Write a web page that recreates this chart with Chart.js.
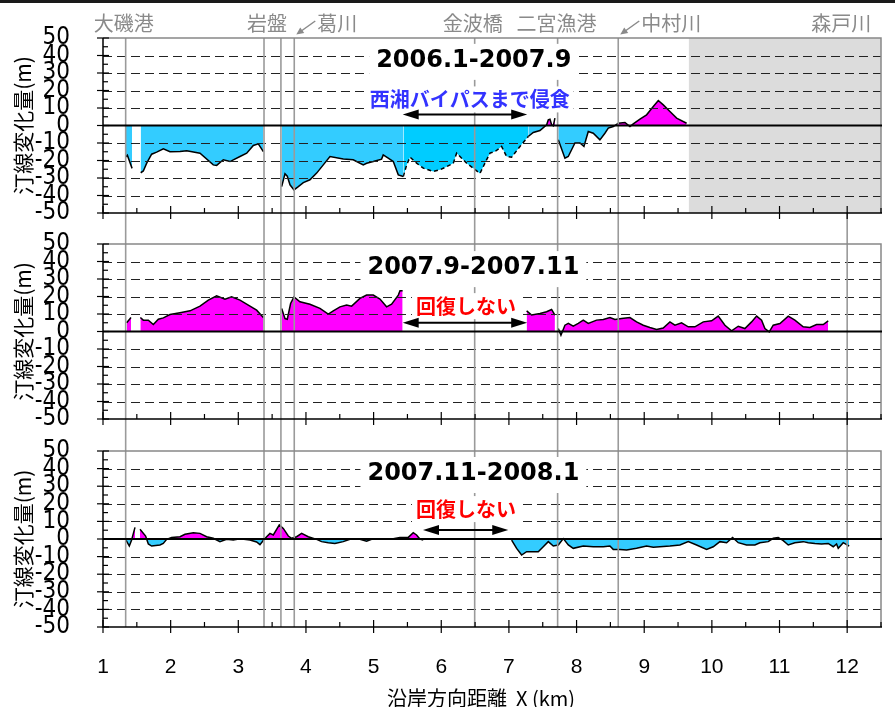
<!DOCTYPE html>
<html>
<head>
<meta charset="utf-8">
<script src="https://cdn.jsdelivr.net/npm/chart.js@4.4.0/dist/chart.umd.min.js"></script>
<style>
  body { margin: 0; background: #fff; width: 895px; height: 707px; overflow: hidden; position: relative; }
  canvas { position: absolute; left: 0; }
  #topbar { position: absolute; left: 0; top: 0; width: 895px; height: 3px; background: #1a1a1a; }
</style>
</head>
<body>
<div id="topbar"></div>
<canvas id="c1" width="895" height="223" style="top:0"></canvas>
<canvas id="c2" width="895" height="210" style="top:223px"></canvas>
<canvas id="c3" width="895" height="274" style="top:433px"></canvas>
<script>
// landmarks along the coast (km) and their names
const landmarkKm = [1.335, 3.38, 3.63, 3.827, 6.494, 7.72, 8.616, 12.0];
const landmarkNames = ['大磯港', '岩盤', '', '葛川', '金波橋', '二宮漁港', '中村川', '森戸川'];

// 2006.1-2007.9 (solid part, null = no data)
const p1X = [1.335, 1.36, 1.43, 1.49, 1.557, 1.596, 1.646, 1.719, 1.793, 1.892, 1.990, 2.138, 2.237, 2.434, 2.630, 2.680, 2.778, 2.877, 3.025, 3.124, 3.222, 3.296, 3.370, 3.50,
  3.641, 3.690, 3.724, 3.764, 3.823, 3.887, 3.961, 4.059, 4.158, 4.256, 4.355, 4.552, 4.699, 4.847, 4.897, 4.995, 5.118, 5.142, 5.216, 5.291, 5.365, 5.439, 6.40,
  7.286, 7.360, 7.459, 7.558, 7.582, 7.607, 7.631, 7.656, 7.680, 7.70,
  7.730, 7.828, 7.877, 7.976, 8.050, 8.109, 8.173, 8.247, 8.345, 8.419, 8.469, 8.543, 8.617, 8.715, 8.789, 8.838, 8.937, 9.035, 9.134, 9.208, 9.282, 9.380, 9.479, 9.627];
const p1Y = [-18, -17, -24.5, null, -27, -26, -21.5, -16.4, -15.2, -13.3, -15, -14.9, -14.5, -15.8, -22.5, -22.8, -19.6, -20.6, -17.7, -15.8, -11.4, -10.5, -14.9, null,
  -34.9, -27.6, -29, -33.9, -36.8, -34.9, -32.6, -31, -27.2, -22.5, -17.7, -19.2, -19.6, -22.5, -21.6, -20.6, -19.2, -16.8, -18.7, -20.6, -28.2, -29.1, null,
  -6.3, -4, -2.9, 0.4, 3.2, 3.6, 0.4, -0.2, 4.2, null,
  -8.2, -18.7, -17.7, -10, -10, -12, -3.4, -4.4, -8.2, -4.4, -1.5, -0.6, 1.3, 1.7, -0.6, 0.9, 3.6, 6.1, 10.9, 14.3, 11.8, 8, 4.2, 1.3];
// 2006.1-2007.9 (dashed part)
const p1DashX = [5.439, 5.489, 5.538, 5.636, 5.735, 5.882, 5.981, 6.080, 6.178, 6.227, 6.375, 6.473, 6.572, 6.646, 6.720, 6.794, 6.892, 6.966, 7.040, 7.163, 7.286];
const p1DashY = [-29.1, -22.5, -18.1, -21.5, -24.4, -26.3, -25.3, -23.5, -21.5, -15.8, -21.5, -24.4, -27.4, -21.5, -15.8, -14.9, -12, -17.7, -18.1, -12, -6.3];

// 2007.9-2007.11
const p2X = [1.350, 1.414, 1.48, 1.552, 1.596, 1.670, 1.744, 1.818, 1.892, 1.990, 2.138, 2.286, 2.434, 2.557, 2.680, 2.803, 2.901, 3.025, 3.148, 3.271, 3.370, 3.50,
  3.641, 3.690, 3.724, 3.773, 3.823, 3.911, 4.059, 4.207, 4.330, 4.404, 4.503, 4.601, 4.675, 4.798, 4.897, 4.995, 5.094, 5.192, 5.266, 5.365, 5.390, 5.429, 6.40,
  7.262, 7.336, 7.459, 7.557, 7.631, 7.680, 7.70,
  7.730, 7.769, 7.828, 7.878, 7.951, 8.025, 8.099, 8.173, 8.296, 8.395, 8.493, 8.567, 8.666, 8.789, 8.887, 8.986, 9.084, 9.183, 9.281, 9.380,
  9.454, 9.552, 9.651, 9.749, 9.873, 9.996, 10.094, 10.193, 10.291, 10.390, 10.488, 10.587, 10.661, 10.735, 10.784, 10.848, 10.907, 11.006, 11.129, 11.227,
  11.350, 11.449, 11.547, 11.646, 11.720];
const p2Y = [5, 8, null, 8, 6.5, 6.5, 4, 7, 7.8, 9.7, 10.7, 11.8, 14.5, 17.9, 20.4, 18.5, 19.8, 17.9, 15.1, 12.2, 8, null,
  13.2, 7.4, 7, 16, 19.8, 17, 15.6, 13.2, 9.9, 11.8, 14.1, 15.1, 14.5, 18.9, 20.8, 20.8, 18.5, 14.1, 15.6, 20.8, 23.3, 23.3, null,
  11.8, 9.4, 10.3, 11.3, 12.6, 9.4, null,
  1.7, -2.1, 3.6, 4.6, 3, 4.6, 6.5, 4.6, 6.5, 6.9, 8, 6.9, 7.4, 8, 5.5, 3.6, 2.3, 1.1, 2, 5.5,
  3.6, 5, 2.7, 2.7, 5.5, 6.1, 8.8, 3.6, 0.4, 3, 1.7, 5.5, 8.8, 6.5, 1.7, -0.2, 3.6, 4.6, 8.8, 6.5,
  2.7, 2.3, 4, 4, 6.1];

// 2007.11-2008.1
const p3X = [1.340, 1.389, 1.423, 1.473, 1.51,
  1.547, 1.630, 1.670, 1.719, 1.842, 1.891, 1.941, 2.014, 2.138, 2.212, 2.335, 2.433, 2.532, 2.630, 2.729, 2.827, 2.926, 3.024, 3.172, 3.271,
  3.320, 3.369, 3.419, 3.468, 3.517, 3.606, 3.665, 3.739, 3.788, 3.862, 3.936, 4.034, 4.158, 4.231, 4.330, 4.428, 4.551, 4.650, 4.798, 4.896,
  4.970, 5.093, 5.290, 5.389, 5.512, 5.586, 5.635, 5.684, 5.734, 6.40,
  7.040, 7.114, 7.188, 7.262, 7.360, 7.434, 7.508, 7.582, 7.656, 7.730, 7.804, 7.878, 7.951, 8.099, 8.247, 8.395, 8.493, 8.542, 8.641, 8.740,
  8.887, 9.035, 9.134, 9.232, 9.380, 9.528, 9.651, 9.774, 9.922, 10.020, 10.119, 10.218, 10.306, 10.390, 10.513, 10.636, 10.710, 10.833, 10.907, 10.981,
  11.055, 11.129, 11.227, 11.350, 11.424, 11.523, 11.621, 11.720, 11.794, 11.843, 11.868, 11.942, 12.030];
const p3Y = [-0.6, -4, -0.6, 6.6, null,
  5.5, 1.7, -2.8, -4, -3.4, -2.5, -0.2, 0.9, 1.3, 2.7, 3.6, 3.2, 1.3, 0.4, -1.5, -0.2, -0.6, 0.2, -0.6, -1.7,
  -3.2, -0.9, 1.3, 3.2, 2.3, 8, 6, 1.7, 0.4, 1.3, 3.2, 1.3, -0.2, -1.5, -2.1, -2.5, -1.5, -0.2, -0.2, -1.3,
  -0.2, -0.2, 0.2, 0.8, 0.9, 3.6, 2.3, 0, -0.6, null,
  -0.6, -5.3, -9.1, -7.2, -7.2, -7.2, -4.4, -1.5, -4, -3.4, 0.2, -3.4, -5.3, -4, -4.4, -4.4, -4, -5.9, -5.9, -6.3,
  -5.3, -4, -4.7, -4.4, -4, -3.4, -1.5, -3.4, -5.9, -4.4, -1.5, -2.1, 0.9, -2.1, -3.4, -3.4, -2.1, -1.5, 0.4, 0.9,
  -0.9, -3.4, -2.1, -1.5, -2.1, -2.5, -2.8, -2.5, -4.4, -2.8, -5.3, -2.1, -4];

const CJK = '"Noto Sans CJK JP", sans-serif';
const MAGENTA = '#ff00ff', CYAN = '#33ccff';

function lineDs(xs, ys, extra) {
  return Object.assign({
    data: xs.map((x, i) => ({ x: x, y: ys[i] })),
    borderColor: '#000',
    borderWidth: 1.5,
    pointRadius: 0,
    tension: 0,
    spanGaps: false,
    fill: { target: 'origin', above: MAGENTA, below: CYAN }
  }, extra || {});
}

function arrowHead(ctx, x, y, dir, len, half) {
  ctx.beginPath();
  ctx.moveTo(x, y);
  ctx.lineTo(x - dir * len, y - half);
  ctx.lineTo(x - dir * len, y + half);
  ctx.closePath();
  ctx.fill();
}

const deco = {
  id: 'deco',
  beforeDatasetsDraw(chart, args, o) {
    const { ctx, chartArea: a, scales: { x } } = chart;
    if (o.band) {
      const bx = x.getPixelForValue(o.band);
      ctx.save();
      ctx.fillStyle = '#dcdcdc';
      ctx.fillRect(bx, a.top, a.right - bx, a.bottom - a.top);
      ctx.restore();
    }
  },
  afterDatasetsDraw(chart, args, o) {
    const { ctx, chartArea: a, scales: { x, y } } = chart;
    ctx.save();

    // dashed grid lines
    ctx.strokeStyle = '#222';
    ctx.lineWidth = 1;
    ctx.setLineDash([9, 5]);
    y.ticks.forEach(t => {
      if (t.value % 10 === 0 && Math.abs(t.value) < 50 && t.value !== 0) {
        const py = Math.round(y.getPixelForValue(t.value)) + 0.5;
        ctx.beginPath(); ctx.moveTo(a.left, py); ctx.lineTo(a.right, py); ctx.stroke();
      }
    });
    ctx.setLineDash([]);

    // landmark lines
    ctx.strokeStyle = '#9a9a9a';
    ctx.lineWidth = 1.6;
    landmarkKm.forEach(km => {
      const px = x.getPixelForValue(km);
      let y0 = o.linesFromArea ? a.top : 0;
      const y1 = o.linesToArea ? a.bottom : chart.height;
      if (o.band && km >= o.band) y0 = a.bottom;
      ctx.beginPath(); ctx.moveTo(px, y0); ctx.lineTo(px, y1); ctx.stroke();
    });

    // frame: grey top/right, black axes
    ctx.strokeStyle = '#888';
    ctx.lineWidth = 1.5;
    ctx.beginPath();
    ctx.moveTo(a.left, a.top); ctx.lineTo(a.right, a.top); ctx.lineTo(a.right, a.bottom);
    ctx.stroke();

    ctx.strokeStyle = '#000';
    const zy = y.getPixelForValue(0);
    ctx.lineWidth = 2;
    ctx.beginPath(); ctx.moveTo(a.left, zy); ctx.lineTo(a.right + 1, zy); ctx.stroke();
    ctx.lineWidth = 1.5;
    ctx.beginPath();
    ctx.moveTo(a.left, a.top); ctx.lineTo(a.left, a.bottom); ctx.lineTo(a.right + 1, a.bottom);
    ctx.stroke();

    // ticks
    ctx.lineWidth = 1.2;
    y.ticks.forEach(t => {
      const py = y.getPixelForValue(t.value);
      const major = t.value % 10 === 0;
      ctx.beginPath();
      ctx.moveTo(major ? a.left - 6 : a.left, py);
      ctx.lineTo(a.left + (major ? 6 : 5), py);
      ctx.stroke();
    });
    x.ticks.forEach(t => {
      const px = x.getPixelForValue(t.value);
      const major = Number.isInteger(t.value);
      ctx.beginPath();
      ctx.moveTo(px, major ? a.bottom + 6 : a.bottom);
      ctx.lineTo(px, a.bottom - (major ? 7 : 5));
      ctx.stroke();
    });

    // period title with white box
    if (o.title) {
      const tx = x.getPixelForValue(o.title.x), ty = y.getPixelForValue(o.title.y);
      ctx.font = 'bold 24px "DejaVu Sans", sans-serif';
      const w = ctx.measureText(o.title.text).width;
      ctx.fillStyle = '#fff';
      ctx.fillRect(tx - w / 2 - 7, ty - 16, w + 14, 36);
      ctx.fillStyle = '#000';
      ctx.textAlign = 'center';
      ctx.textBaseline = 'middle';
      ctx.fillText(o.title.text, tx, ty + 1);
    }
    if (o.note) {
      const nx = x.getPixelForValue(o.note.x), ny = y.getPixelForValue(o.note.y);
      ctx.font = 'bold 20px ' + CJK;
      const w = ctx.measureText(o.note.text).width;
      ctx.fillStyle = '#fff';
      ctx.fillRect(nx - w / 2 - 4, ny - 13, w + 8, 26);
      ctx.fillStyle = o.note.color;
      ctx.textAlign = 'center';
      ctx.textBaseline = 'middle';
      ctx.fillText(o.note.text, nx, ny);
    }
    if (o.arrow) {
      const x1 = x.getPixelForValue(o.arrow.from), x2 = x.getPixelForValue(o.arrow.to);
      const ay = y.getPixelForValue(o.arrow.y);
      ctx.strokeStyle = '#000';
      ctx.fillStyle = '#000';
      ctx.lineWidth = 2.2;
      ctx.beginPath(); ctx.moveTo(x1 + 10, ay); ctx.lineTo(x2 - 10, ay); ctx.stroke();
      arrowHead(ctx, x1, ay, -1, 16, 5);
      arrowHead(ctx, x2, ay, 1, 16, 5);
    }
    ctx.restore();
  },
  afterDraw(chart, args, o) {
    const { ctx, scales: { x } } = chart;
    ctx.save();
    if (o.landmarkLabels) {
      // label offsets from each landmark line, px; pointer = small arrow to the line
      const labelDx = [-2, 3, 0, 43, -2, -1, 53, -6];
      const pointer = [false, false, false, true, false, false, true, false];
      ctx.font = '20px ' + CJK;
      ctx.fillStyle = '#8a8a8a';
      ctx.strokeStyle = '#8a8a8a';
      ctx.textAlign = 'center';
      ctx.textBaseline = 'middle';
      landmarkNames.forEach((name, i) => {
        if (!name) return;
        const px = x.getPixelForValue(landmarkKm[i]);
        ctx.fillText(name, px + labelDx[i], 23);
        if (pointer[i]) {
          ctx.lineWidth = 1.5;
          ctx.beginPath(); ctx.moveTo(px + 21, 21); ctx.lineTo(px + 7, 31); ctx.stroke();
          ctx.beginPath();
          ctx.moveTo(px + 2, 34.5); ctx.lineTo(px + 6, 27.5); ctx.lineTo(px + 10, 33);
          ctx.closePath(); ctx.fill();
        }
      });
    }
    if (o.xTitle) {
      ctx.font = '20px ' + CJK;
      ctx.fillStyle = '#000';
      ctx.textAlign = 'center';
      ctx.textBaseline = 'middle';
      ctx.fillText(o.xTitle, 481, chart.height - 9);
    }
    ctx.restore();
  }
};

function makePanel(id, datasets, decoOpts, padTop, xAxisH, showX) {
  return new Chart(document.getElementById(id), {
    type: 'line',
    data: { datasets: datasets },
    plugins: [deco],
    options: {
      responsive: false,
      animation: false,
      layout: { padding: { top: padTop, right: 14, bottom: 0, left: 0 } },
      plugins: { legend: { display: false }, tooltip: { enabled: false }, deco: decoOpts },
      scales: {
        x: {
          type: 'linear', min: 1, max: 12.5,
          grid: { display: false }, border: { display: false },
          ticks: {
            display: showX, stepSize: 0.5, autoSkip: false, maxRotation: 0, padding: 20,
            color: '#000', font: { family: '"Liberation Sans", Arial, sans-serif', size: 21 },
            callback: v => Number.isInteger(v) ? v : ''
          },
          afterFit: s => { s.height = xAxisH; s.paddingLeft = 0; s.paddingRight = 0; }
        },
        y: {
          min: -50, max: 50,
          grid: { display: false }, border: { display: false },
          ticks: {
            stepSize: 5, autoSkip: false, padding: 25, color: '#000',
            font: { family: '"Liberation Sans Narrow", "DejaVu Sans Condensed", sans-serif', size: 24 },
            callback: v => v % 10 === 0 ? v : ''
          },
          title: {
            display: true, text: '汀線変化量(m)', color: '#000',
            font: { family: CJK, size: 21 }, padding: { top: 10, bottom: 0 }
          },
          afterFit: s => { s.width = 103; s.paddingTop = 0; s.paddingBottom = 0; }
        }
      }
    }
  });
}

makePanel('c1', [
  lineDs(p1X, p1Y),
  lineDs(p1DashX, p1DashY, { borderDash: [4, 3], fill: { target: 'origin', above: MAGENTA, below: '#00ccff' } })
], {
  band: 9.66,
  linesFromArea: true,
  landmarkLabels: true,
  title: { text: '2006.1-2007.9', x: 6.48, y: 37.5 },
  note: { text: '西湘バイパスまで侵食', color: '#3333ff', x: 6.42, y: 14.9 },
  arrow: { from: 5.43, to: 7.27, y: 6.3 }
}, 38, 10, false);

makePanel('c2', [lineDs(p2X, p2Y)], {
  title: { text: '2007.9-2007.11', x: 6.475, y: 36.8 },
  note: { text: '回復しない', color: '#ff0000', x: 6.365, y: 14.5 },
  arrow: { from: 5.43, to: 7.27, y: 5 }
}, 21, 14, false);

makePanel('c3', [lineDs(p3X, p3Y)], {
  linesToArea: true,
  xTitle: '沿岸方向距離  X (km)',
  title: { text: '2007.11-2008.1', x: 6.475, y: 37.5 },
  note: { text: '回復しない', color: '#ff0000', x: 6.365, y: 17 },
  arrow: { from: 5.73, to: 6.99, y: 5.1 }
}, 18, 80, true);
</script>
</body>
</html>
